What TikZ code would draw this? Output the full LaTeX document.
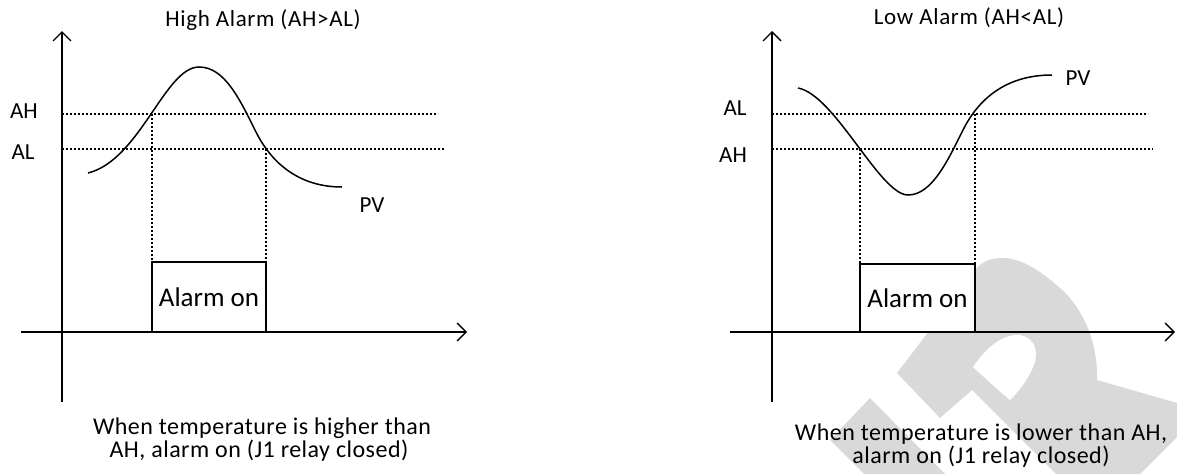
\documentclass[tikz,border=0pt]{standalone}
\usepackage{fontspec}
\setmainfont{Carlito}
\usetikzlibrary{arrows.meta}
\definecolor{wm}{HTML}{D9D9D9}
\tikzset{
  axisline/.style={line width=1.3pt,-{Straight Barb[length=9pt,width=18pt]}},
  guide/.style={line width=1.3pt,dash pattern=on 2pt off 2pt},
  pvcurve/.style={line width=1.5pt},
  alarmbox/.style={draw,line width=1.4pt,fill=white,inner sep=0pt,
    minimum width=114pt,minimum height=70pt,font=\fontsize{27}{30}\selectfont},
  lbl/.style={inner sep=0pt,anchor=base,font=\fontsize{23}{26}\selectfont},
  ttl/.style={inner sep=0pt,anchor=base,font=\fontsize{23}{26}\selectfont\addfontfeatures{LetterSpace=3}},
  capt/.style={inner sep=0pt,anchor=base,font=\fontsize{24}{28}\selectfont\addfontfeatures{LetterSpace=2}},
  wmark/.style={fill=wm,draw=none}
}
\begin{document}
\begin{tikzpicture}[x=1pt,y=-1pt]
\useasboundingbox (0,0) rectangle (1177,474);
% watermark
\fill[wmark] (870,398) -- (945,474) -- (864,474) -- (830,440) -- cycle;
\fill[wmark] (897,373) -- (940,418) -- (972,390) -- (1000,418) -- (1056,474)
  -- (1140,474) -- (1177,437) -- (1177,403) -- (1097,380)
  .. controls (1098,345) and (1085,310) .. (1060,288)
  .. controls (1040,270) and (1020,258) .. (1003,258)
  .. controls (990,258) and (982,262) .. (977,268) -- cycle;
\fill[white] (973,367) .. controls (985,350) and (998,337) .. (1015,335)
  .. controls (1032,334) and (1040,348) .. (1034,365)
  .. controls (1028,380) and (1018,392) .. (1010,400)
  .. controls (998,390) and (985,378) .. (973,367) -- cycle;
% ---------- left panel ----------
\coordinate (LyB) at (62,402); \coordinate (LyT) at (62,31);
\coordinate (LxL) at (21,332); \coordinate (LxR) at (467,332);
\coordinate (LahA) at (62,114); \coordinate (LahB) at (438,114);
\coordinate (LalA) at (62,149); \coordinate (LalB) at (444,149);
\coordinate (Lc1) at (152,114); \coordinate (Lb1) at (152,332);
\coordinate (Lc2) at (266,149); \coordinate (Lb2) at (266,332);
\draw[guide] (LahA) -- (LahB);
\draw[guide] (LalA) -- (LalB);
\draw[guide] (Lc1) -- (Lb1);
\draw[guide] (Lc2) -- (Lb2);
\draw[pvcurve] (88,173) .. controls (140,160) and (165,67) .. (199,67)
  .. controls (225,67) and (240,100) .. (256,132)
  .. controls (272,164) and (300,187) .. (342,187);
\draw[axisline] (LyB) -- (LyT);
\draw[axisline] (LxL) -- (LxR);
\node[alarmbox] (boxL) at (209,297) {Alarm on};
\node[ttl] (titleL) at (263,26) {High Alarm (AH>AL)};
\node[lbl] (ahL) at (24,118) {AH};
\node[lbl] (alL) at (23,159) {AL};
\node[lbl] (pvL) at (372,212) {PV};
\node[capt] (capL1) at (262,434) {When temperature is higher than};
\node[capt] (capL2) at (259,457) {AH, alarm on (J1 relay closed)};
% ---------- right panel ----------
\coordinate (RyB) at (772,402); \coordinate (RyT) at (772,31);
\coordinate (RxL) at (730,332); \coordinate (RxR) at (1175,332);
\coordinate (RalA) at (772,114); \coordinate (RalB) at (1148,114);
\coordinate (RahA) at (772,149); \coordinate (RahB) at (1153,149);
\coordinate (Rc1) at (860,149); \coordinate (Rb1) at (860,332);
\coordinate (Rc2) at (975,114); \coordinate (Rb2) at (975,332);
\draw[guide] (RalA) -- (RalB);
\draw[guide] (RahA) -- (RahB);
\draw[guide] (Rc1) -- (Rb1);
\draw[guide] (Rc2) -- (Rb2);
\draw[pvcurve] (798,88) .. controls (835,95) and (880,195) .. (908,195)
  .. controls (932,195) and (948,160) .. (963,130)
  .. controls (978,100) and (1005,75) .. (1052,75);
\draw[axisline] (RyB) -- (RyT);
\draw[axisline] (RxL) -- (RxR);
\node[alarmbox,minimum width=115pt,minimum height=68pt] (boxR) at (917.5,298) {Alarm on};
\node[ttl] (titleR) at (969,24) {Low Alarm (AH<AL)};
\node[lbl] (alR) at (735,115) {AL};
\node[lbl] (ahR) at (733,162) {AH};
\node[lbl] (pvR) at (1078,85) {PV};
\node[capt] (capR1) at (981,440) {When temperature is lower than AH,};
\node[capt] (capR2) at (981,463) {alarm on (J1 relay closed)};
\end{tikzpicture}
\end{document}
